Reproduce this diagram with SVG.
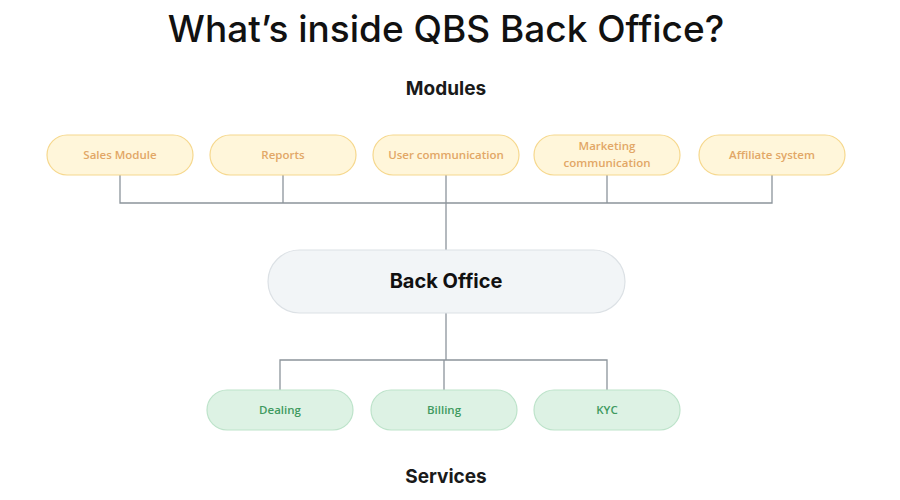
<svg xmlns="http://www.w3.org/2000/svg" width="900" height="500" viewBox="0 0 900 500">
<style>
.title{font-family:Inter,"Liberation Sans",sans-serif;font-weight:500;font-size:37px;fill:#111;text-anchor:middle}
.sec{font-family:Inter,"Liberation Sans",sans-serif;font-weight:700;font-size:19px;fill:#1a1a1a;text-anchor:middle}
.mod rect{fill:#FFF6DA;stroke:#F6D88E;stroke-width:1.2}
.mod text{font-family:"Open Sans","Liberation Sans",sans-serif;font-size:11.5px;font-weight:600;fill:#E2A766;text-anchor:middle}
.svc rect{fill:#DDF2E4;stroke:#BDE3CA;stroke-width:1.2}
.svc text{font-family:"Open Sans","Liberation Sans",sans-serif;font-size:11.5px;font-weight:600;fill:#3F9A60;text-anchor:middle}
.core rect{fill:#F2F5F7;stroke:#DCE1E5;stroke-width:1.2}
.core text{font-family:Inter,"Liberation Sans",sans-serif;font-size:20px;font-weight:700;fill:#111;text-anchor:middle}
.conn path{fill:none;stroke:#8C949B;stroke-width:1.3}
</style>
<rect width="900" height="500" fill="#fff"/>
<text class="title" x="446" y="42">What’s inside QBS Back Office?</text>
<text class="sec" x="446" y="95">Modules</text>
<text class="sec" x="446" y="483">Services</text>
<g id="connectors" class="conn">
<path d="M120 175V203H772V175"/>
<path d="M283 175V203"/>
<path d="M446 175V250"/>
<path d="M607 175V203"/>
<path d="M446 313V360"/>
<path d="M280 390V360H607V390"/>
<path d="M444 360V390"/>
</g>
<g id="sales" class="mod"><rect x="47" y="135" width="146" height="40" rx="20"/><text x="120" y="159">Sales Module</text></g>
<g id="reports" class="mod"><rect x="210" y="135" width="146" height="40" rx="20"/><text x="283" y="159">Reports</text></g>
<g id="usercomm" class="mod"><rect x="373" y="135" width="146" height="40" rx="20"/><text x="446" y="159">User communication</text></g>
<g id="marketing" class="mod"><rect x="534" y="135" width="146" height="40" rx="20"/><text x="607" y="150">Marketing</text><text x="607" y="167">communication</text></g>
<g id="affiliate" class="mod"><rect x="699" y="135" width="146" height="40" rx="20"/><text x="772" y="159">Affiliate system</text></g>
<g id="backoffice" class="core"><rect x="268" y="250" width="357" height="63" rx="31.5"/><text x="446" y="288">Back Office</text></g>
<g id="dealing" class="svc"><rect x="207" y="390" width="146" height="40" rx="20"/><text x="280" y="414">Dealing</text></g>
<g id="billing" class="svc"><rect x="371" y="390" width="146" height="40" rx="20"/><text x="444" y="414">Billing</text></g>
<g id="kyc" class="svc"><rect x="534" y="390" width="146" height="40" rx="20"/><text x="607" y="414">KYC</text></g>
</svg>
